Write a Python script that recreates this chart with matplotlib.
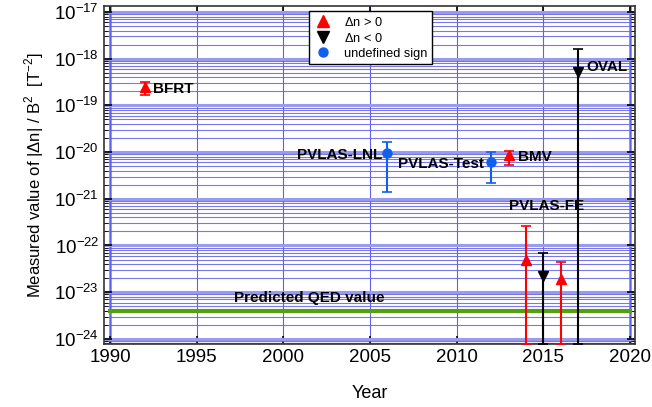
import matplotlib
matplotlib.use("Agg")
import matplotlib.pyplot as plt
from matplotlib.ticker import LogLocator, NullFormatter
from matplotlib.lines import Line2D

plt.rcParams['font.family'] = ['Liberation Sans', 'DejaVu Sans']
plt.rcParams['mathtext.fontset'] = 'custom'
plt.rcParams['mathtext.rm'] = 'Liberation Sans'

# data
ymin_plot = 7.7e-25

pos_year = [1992, 2013, 2014, 2016]
pos_val = [2.5e-19, 8.7e-21, 4.9e-23, 1.9e-23]
pos_hi = [3.2e-19, 1.05e-20, 2.6e-22, 4.5e-23]
pos_lo = [1.67e-19, 5.3e-21, ymin_plot, ymin_plot]

neg_year = [2015, 2017]
neg_val = [2.2e-23, 5.2e-19]
neg_hi = [6.9e-23, 1.6e-18]
neg_lo = [ymin_plot, ymin_plot]

und_year = [2006, 2012]
und_val = [9.5e-21, 6.1e-21]
und_hi = [1.65e-20, 1.0e-20]
und_lo = [1.4e-21, 2.2e-21]

qed_value = 4.0e-24

labels = ["BFRT", "PVLAS-LNL", "PVLAS-Test", "BMV", "OVAL", "PVLAS-FE", "Predicted QED value"]
yticks = [1e-24, 1e-23, 1e-22, 1e-21, 1e-20, 1e-19, 1e-18, 1e-17]
xticks = [1990, 1995, 2000, 2005, 2010, 2015, 2020]


def errs(v, lo, hi):
    return [[a - b for a, b in zip(v, lo)], [c - a for a, c in zip(v, hi)]]


fig = plt.figure(figsize=(6.52, 4.07), dpi=100)
ax = fig.add_axes([104/652, 1 - 344/407, 531/652, 338/407])
ax.set_yscale('log')
ax.set_xlim(1989.65, 2020.3)
ax.set_ylim(10**(-24.11), 10**(-16.87))

# grid
ax.set_yticks(yticks)
ax.yaxis.set_minor_locator(LogLocator(base=10, subs=range(2, 10), numticks=20))
ax.yaxis.set_minor_formatter(NullFormatter())
ax.grid(True, which='major', axis='y', color='#9a9af0', lw=2.2, zorder=0)
ax.grid(True, which='minor', axis='y', color='#6060e8', lw=0.8, alpha=0.85, zorder=0)
ax.grid(True, which='major', axis='x', color='#6060e8', lw=0.8, zorder=0)
ax.axvline(1990, color='#9a9af0', lw=2.2, zorder=0)
ax.axvline(2020, color='#9a9af0', lw=2.2, zorder=0)

ax.plot([1990, 2020], [qed_value, qed_value], color='#55a010', lw=3, zorder=2)

eb = dict(ms=6.5, capsize=3.5, elinewidth=1.5, capthick=1.2, zorder=3)
ax.errorbar(pos_year, pos_val, yerr=errs(pos_val, pos_lo, pos_hi), fmt='^', color='red', **eb)
ax.errorbar(neg_year, neg_val, yerr=errs(neg_val, neg_lo, neg_hi), fmt='v', color='black', **eb)
ax.errorbar(und_year, und_val, yerr=errs(und_val, und_lo, und_hi), fmt='o', color='#1060f0', **eb)

tk = dict(fontsize=11, fontweight='bold', color='black', va='center', zorder=4)
ax.text(1992.5, pos_val[0] * 0.9, labels[0], ha='left', **tk)
ax.text(2005.7, und_val[0] * 0.92, labels[1], ha='right', **tk)
ax.text(2011.55, und_val[1] * 0.92, labels[2], ha='right', **tk)
ax.text(2013.55, pos_val[1] * 0.92, labels[3], ha='left', **tk)
ax.text(2017.5, neg_val[1] * 1.25, labels[4], ha='left', **tk)
ax.text(2015.2, 3.0e-22 * 2.3, labels[5], ha='center', **tk)
ax.text(2001.5, qed_value * 1.9, labels[6], ha='center', **tk)

ax.set_xticks(xticks)
ax.tick_params(which='both', direction='in', top=True, right=True, labelsize=13.5)
ax.tick_params(which='major', length=6, width=1.2)
ax.tick_params(which='minor', length=3)
for s in ax.spines.values():
    s.set_linewidth(1.2)
    s.set_color('#333333')

ax.set_xlabel('Year', fontsize=13, labelpad=14)
ax.set_ylabel(r'Measured value of |$\Delta$n| / B$^2$  [T$^{-2}$]', fontsize=12, labelpad=6)

handles = [
    Line2D([], [], ls='none', marker='^', color='red', ms=8),
    Line2D([], [], ls='none', marker='v', color='black', ms=8),
    Line2D([], [], ls='none', marker='o', color='#1060f0', ms=6.5),
]
leg = ax.legend(handles, [r'$\Delta$n > 0', r'$\Delta$n < 0', 'undefined sign'],
                loc='upper left', bbox_to_anchor=(0.386, 0.985), borderaxespad=0,
                fontsize=9.2, frameon=True, fancybox=False, edgecolor='black', framealpha=1,
                handletextpad=0.9, borderpad=0.35, labelspacing=0.25, handlelength=1.5)
leg.get_frame().set_linewidth(1.0)

fig.savefig('out.png', dpi=100)
